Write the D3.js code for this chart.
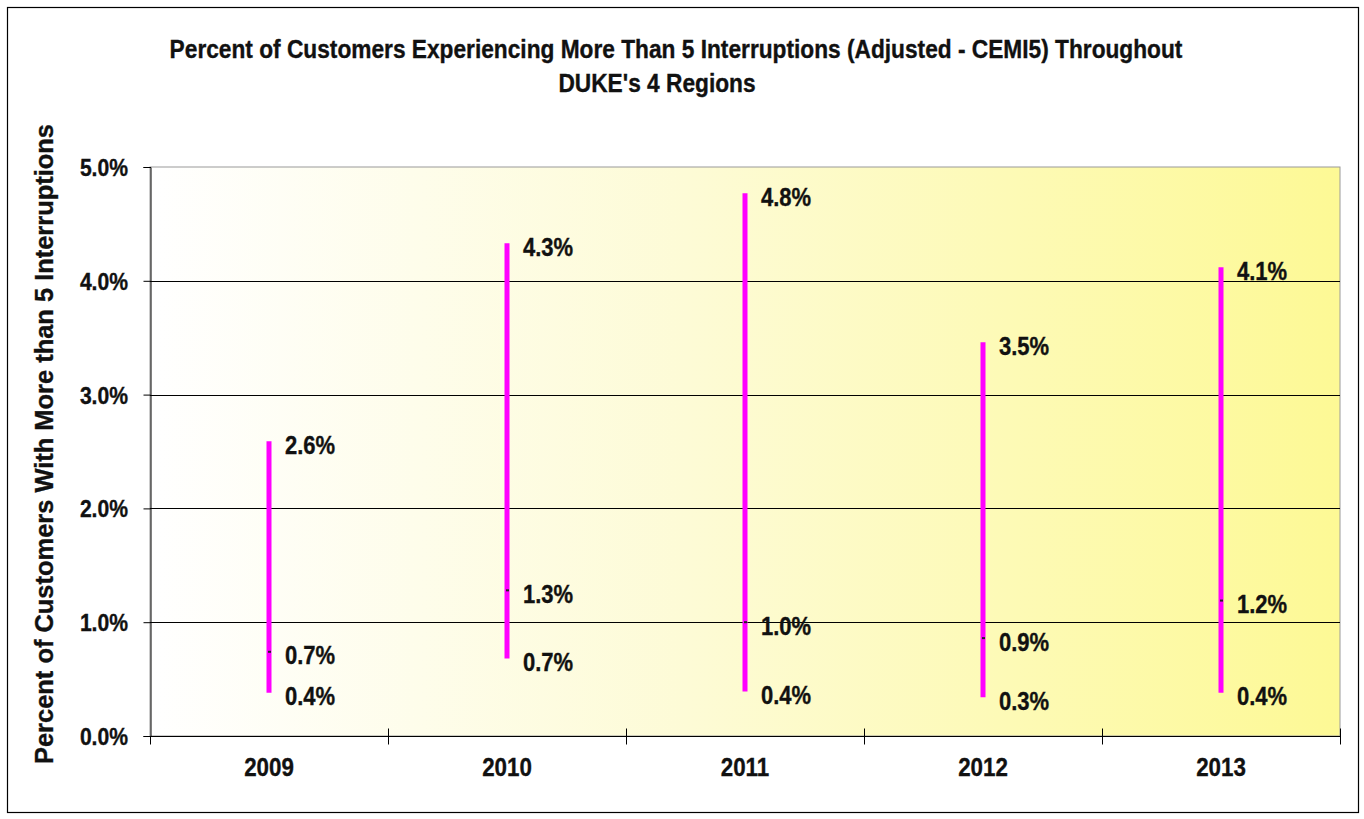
<!DOCTYPE html>
<html>
<head>
<meta charset="utf-8">
<script src="https://cdn.jsdelivr.net/npm/d3@7"></script>
<style>
  html, body { margin: 0; padding: 0; background: #ffffff; }
  svg { display: block; }
  text { font-family: "Liberation Sans", Arial, sans-serif; font-weight: bold; fill: #111; stroke: #111; stroke-width: 0.35px; }
</style>
</head>
<body>
<svg id="chart" width="1364" height="819"></svg>
<script>
// Yearly CEMI5 range across the four regions (percent of customers)
const years = ["2009", "2010", "2011", "2012", "2013"];
const highValues = [2.59, 4.33, 4.77, 3.46, 4.12];
const midValues  = [0.74, 1.28, 1.00, 0.86, 1.19];
const lowValues  = [0.38, 0.68, 0.39, 0.34, 0.38];
const yTicks = [0, 1, 2, 3, 4, 5];

const titleLines = [
  "Percent of Customers Experiencing More Than 5 Interruptions (Adjusted - CEMI5) Throughout",
  "DUKE's 4 Regions"
];
const yTitle = "Percent of Customers With More than 5 Interruptions";

const rows = years.map((y, i) => ({ year: y, high: highValues[i], mid: midValues[i], low: lowValues[i] }));

const svg = d3.select("#chart");
const plot = { left: 150, right: 1340, top: 167, bottom: 736 };

const x = d3.scaleBand().domain(years).range([plot.left, plot.right]).padding(0);
const y = d3.scaleLinear().domain([0, 5]).range([plot.bottom, plot.top]);
const fmt = v => v.toFixed(1) + "%";

// Outer frame
svg.append("rect")
  .attr("x", 7.5).attr("y", 7.5).attr("width", 1351).attr("height", 805)
  .attr("fill", "#ffffff").attr("stroke", "#000").attr("stroke-width", 1.2);

// Plot-area background: white to pale yellow
const defs = svg.append("defs");
const grad = defs.append("linearGradient").attr("id", "bg").attr("x1", "0").attr("x2", "1").attr("y1", "0").attr("y2", "0");
grad.append("stop").attr("offset", "0%").attr("stop-color", "#ffffff");
grad.append("stop").attr("offset", "45%").attr("stop-color", "#fdfbd6");
grad.append("stop").attr("offset", "100%").attr("stop-color", "#fdf995");

svg.append("rect")
  .attr("x", plot.left).attr("y", plot.top)
  .attr("width", plot.right - plot.left).attr("height", plot.bottom - plot.top)
  .attr("fill", "url(#bg)").attr("stroke", "#9a9a9a").attr("stroke-width", 1);

// Horizontal gridlines
svg.append("g").selectAll("line")
  .data(yTicks.filter(t => t > 0 && t < 5))
  .join("line")
  .attr("x1", plot.left).attr("x2", plot.right)
  .attr("y1", d => Math.round(y(d)) + 0.5).attr("y2", d => Math.round(y(d)) + 0.5)
  .attr("stroke", "#000").attr("stroke-width", 1);

// Y axis
const yAxis = svg.append("g")
  .attr("transform", `translate(${plot.left + 0.5},0)`)
  .call(d3.axisLeft(y).tickValues(yTicks).tickSize(7).tickFormat(""));
yAxis.select(".domain").attr("stroke", "#000");
yAxis.selectAll(".tick line").attr("stroke", "#000");

svg.append("g").selectAll("text")
  .data(yTicks)
  .join("text")
  .attr("transform", d => `translate(128,${y(d) + 9}) scale(0.88,1)`)
  .attr("text-anchor", "end")
  .attr("font-size", 24)
  .text(d => d.toFixed(1) + "%");

// X axis with ticks at category boundaries
const xAxisG = svg.append("g").attr("transform", `translate(0,${plot.bottom + 0.5})`);
xAxisG.append("line")
  .attr("x1", plot.left).attr("x2", plot.right)
  .attr("stroke", "#000");
const boundaries = years.map(d => x(d)).concat([x(years[years.length - 1]) + x.bandwidth()]);
xAxisG.selectAll("line.tk")
  .data(boundaries)
  .join("line").attr("class", "tk")
  .attr("x1", d => Math.round(d) + 0.5).attr("x2", d => Math.round(d) + 0.5)
  .attr("y1", (d, i) => (i === 0 ? 0 : -8)).attr("y2", 8)
  .attr("stroke", "#000");

svg.append("g").selectAll("text")
  .data(years)
  .join("text")
  .attr("transform", d => `translate(${x(d) + x.bandwidth() / 2},776) scale(0.86,1)`)
  .attr("text-anchor", "middle")
  .attr("font-size", 26)
  .text(d => d);

// High-low lines
const cx = d => x(d.year) + x.bandwidth() / 2;
svg.append("g").selectAll("line")
  .data(rows)
  .join("line")
  .attr("x1", cx).attr("x2", cx)
  .attr("y1", d => y(d.high)).attr("y2", d => y(d.low))
  .attr("stroke", "#ff00ff").attr("stroke-width", 5);

// Middle value marks
svg.append("g").selectAll("rect")
  .data(rows)
  .join("rect")
  .attr("x", d => cx(d) - 1).attr("y", d => y(d.mid) - 1)
  .attr("width", 3).attr("height", 2)
  .attr("fill", "#222");

// Value labels
const labelData = rows.flatMap(d => [
  { x: cx(d), v: d.high },
  { x: cx(d), v: d.mid },
  { x: cx(d), v: d.low }
]);
svg.append("g").selectAll("text")
  .data(labelData)
  .join("text")
  .attr("transform", d => `translate(${d.x + 16},${y(d.v) + 4}) scale(0.88,1)`)
  .attr("dominant-baseline", "central")
  .attr("font-size", 25)
  .text(d => fmt(d.v));

// Titles: one shared horizontal compression for both lines
const t1 = svg.append("text")
  .attr("text-anchor", "middle")
  .attr("font-size", 25)
  .text(titleLines[0]);
const squeeze = 1013 / t1.node().getComputedTextLength();
t1.attr("transform", `translate(676,58) scale(${squeeze},1)`);
svg.append("text")
  .attr("transform", `translate(657,92) scale(${squeeze},1)`)
  .attr("text-anchor", "middle")
  .attr("font-size", 25)
  .text(titleLines[1]);

svg.append("text")
  .attr("transform", "translate(53,444) rotate(-90)")
  .attr("text-anchor", "middle")
  .attr("font-size", 26)
  .attr("textLength", 640).attr("lengthAdjust", "spacingAndGlyphs")
  .text(yTitle);
</script>
</body>
</html>
